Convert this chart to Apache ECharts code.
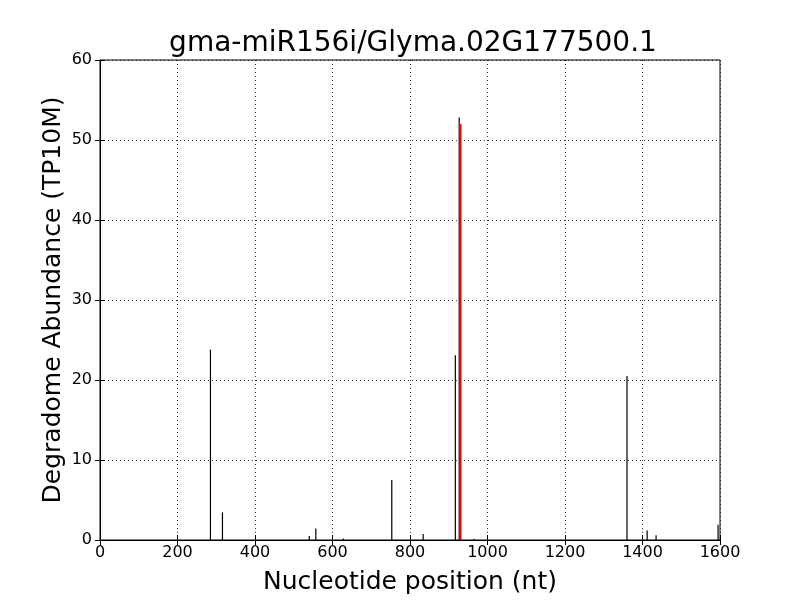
<!DOCTYPE html>
<html>
<head>
<meta charset="utf-8">
<script src="https://cdn.jsdelivr.net/npm/echarts@6/dist/echarts.min.js"></script>
<style>
  html, body { margin: 0; padding: 0; background: #fff; }
  #plot1 { width: 800px; height: 600px; }
</style>
</head>
<body>
<div id="plot1"></div>
<script>
// degradome reads: position (nt) and abundance (TP10M)
const positions = [285, 316, 540, 557, 628, 753, 834, 917, 927, 965, 1360, 1412, 1435, 1595];
const abundance = [23.8, 3.45, 0.5, 1.45, 0.2, 7.5, 0.75, 23.1, 52.8, 0.15, 20.5, 1.2, 0.6, 1.9];
// predicted cleavage site
const sitePos = [930];
const siteVal = [52.0];
const xTicks = [0, 200, 400, 600, 800, 1000, 1200, 1400, 1600];
const yTicks = [0, 10, 20, 30, 40, 50, 60];

const chartDom = document.getElementById('plot1');
const myChart = echarts.init(chartDom);
const font = 'DejaVu Sans';

function stems(color, width) {
  return function (params, api) {
    const p0 = api.coord([api.value(0), 0]);
    const p1 = api.coord([api.value(0), api.value(1)]);
    return {
      type: 'line',
      shape: { x1: p0[0], y1: p0[1], x2: p1[0], y2: p1[1] },
      style: { stroke: color, lineWidth: width }
    };
  };
}

const tickStyle = { inside: true, length: 5, lineStyle: { color: '#000' } };
const option = {
  animation: false,
  title: {
    text: 'gma-miR156i/Glyma.02G177500.1',
    left: 408, top: 25, textAlign: 'center',
    textStyle: { fontFamily: font, fontSize: 28, fontWeight: 'normal', color: '#000' }
  },
  grid: { left: 100, right: 80, top: 60, bottom: 60, show: true, borderColor: '#000', borderWidth: 1 },
  xAxis: [{
    type: 'value', min: 0, max: 1600, interval: 200,
    name: 'Nucleotide position (nt)', nameLocation: 'middle', nameGap: 30, nameMoveOverlap: false,
    nameTextStyle: { fontFamily: font, fontSize: 25, color: '#000' },
    axisLine: { show: true, lineStyle: { color: '#000' } },
    axisTick: tickStyle,
    axisLabel: { fontFamily: font, fontSize: 16, color: '#000', margin: 5,
      formatter: v => xTicks.includes(v) ? String(v) : '' },
    splitLine: { show: true, lineStyle: { color: '#000', type: [1, 3], width: 0.8 } }
  }, {
    type: 'value', min: 0, max: 1600, interval: 200, position: 'top',
    axisLine: { show: false }, axisTick: tickStyle, axisLabel: { show: false }, splitLine: { show: false }
  }],
  yAxis: [{
    type: 'value', min: 0, max: 60, interval: 10,
    name: 'Degradome Abundance (TP10M)', nameLocation: 'middle', nameGap: 34, nameMoveOverlap: false,
    nameTextStyle: { fontFamily: font, fontSize: 25, color: '#000' },
    axisLine: { show: true, lineStyle: { color: '#000' } },
    axisTick: tickStyle,
    axisLabel: { fontFamily: font, fontSize: 16, color: '#000', margin: 8,
      formatter: v => yTicks.includes(v) ? String(v) : '' },
    splitLine: { show: true, lineStyle: { color: '#000', type: [1, 3], width: 0.8 } }
  }, {
    type: 'value', min: 0, max: 60, interval: 10, position: 'right',
    axisLine: { show: false }, axisTick: tickStyle, axisLabel: { show: false }, splitLine: { show: false }
  }],
  series: [{
    type: 'custom', xAxisIndex: 0, yAxisIndex: 0,
    renderItem: stems('#000', 1.2),
    data: positions.map((p, i) => [p, abundance[i]])
  }, {
    type: 'custom', xAxisIndex: 0, yAxisIndex: 0,
    renderItem: stems('#ff0000', 2.2),
    data: sitePos.map((p, i) => [p, siteVal[i]])
  }]
};
myChart.setOption(option);
</script>
</body>
</html>
